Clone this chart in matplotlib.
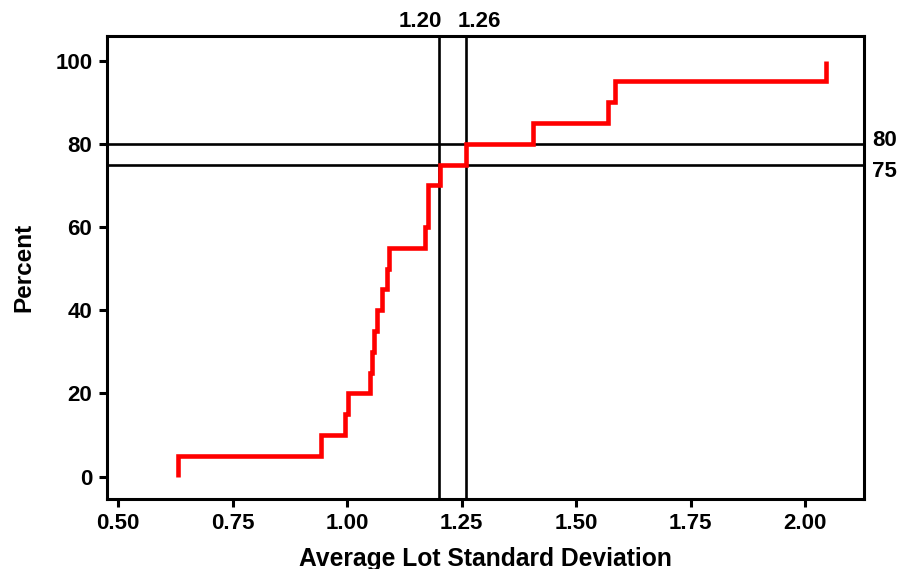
import numpy as np
import matplotlib.pyplot as plt

plt.rcParams['font.family'] = ['Liberation Sans', 'DejaVu Sans']
plt.rcParams['font.weight'] = 'bold'

# sorted lot standard deviations and cumulative percent at each one
lot_sd = [0.631, 0.943, 0.994, 1.001, 1.049, 1.053, 1.058, 1.064, 1.075, 1.086,
          1.091, 1.170, 1.177, 1.177, 1.202, 1.260, 1.406, 1.570, 1.585, 2.045]
percent = [5, 10, 15, 20, 25, 30, 35, 40, 45, 50,
           55, 60, 65, 70, 75, 80, 85, 90, 95, 100]

ref_x = [1.20, 1.26]
ref_y = [80, 75]
xticks = [0.50, 0.75, 1.00, 1.25, 1.50, 1.75, 2.00]
yticks = [0, 20, 40, 60, 80, 100]

fig = plt.figure(figsize=(9.01, 5.69), dpi=100)
ax = fig.add_axes([0.1184, 0.1230, 0.9593 - 0.1184, 0.9367 - 0.1230])

# reference lines
for xv in ref_x:
    ax.axvline(xv, color='black', lw=1.9, zorder=2)
for yv in ref_y:
    ax.axhline(yv, color='black', lw=1.9, zorder=2)

# empirical cdf as a step line
xs = [lot_sd[0]] + lot_sd
ys = [0] + percent
ax.step(xs, ys, where='post', color='#ff0000', lw=3.3, zorder=3,
        solid_joinstyle='miter', solid_capstyle='butt')

ax.set_xlim(0.4747, 2.1288)
ax.set_ylim(-5.36, 105.9)
ax.set_xticks(xticks)
ax.set_xticklabels([f"{t:.2f}" for t in xticks])
ax.set_yticks(yticks)
ax.tick_params(width=2.2, length=5.8, labelsize=16, pad=4.5)

for s in ax.spines.values():
    s.set_linewidth(2.2)

ax.set_xlabel("Average Lot Standard Deviation", fontsize=17.7, fontweight='bold', labelpad=9)
ax.set_ylabel("Percent", fontsize=17.5, fontweight='bold', labelpad=14)

# labels for the reference lines
ax.annotate("1.20", xy=(ref_x[0], 1), xycoords=('data', 'axes fraction'),
            xytext=(3, 4), textcoords='offset pixels', ha='right', va='bottom',
            fontsize=16, fontweight='bold')
ax.annotate("1.26", xy=(ref_x[1], 1), xycoords=('data', 'axes fraction'),
            xytext=(-9, 4), textcoords='offset pixels', ha='left', va='bottom',
            fontsize=16, fontweight='bold')
ax.annotate("80", xy=(1, ref_y[0]), xycoords=('axes fraction', 'data'),
            xytext=(8, 3), textcoords='offset pixels', ha='left', va='center',
            fontsize=16, fontweight='bold')
ax.annotate("75", xy=(1, ref_y[1]), xycoords=('axes fraction', 'data'),
            xytext=(8, -7), textcoords='offset pixels', ha='left', va='center',
            fontsize=16, fontweight='bold')

fig.savefig("out.png", dpi=100)
